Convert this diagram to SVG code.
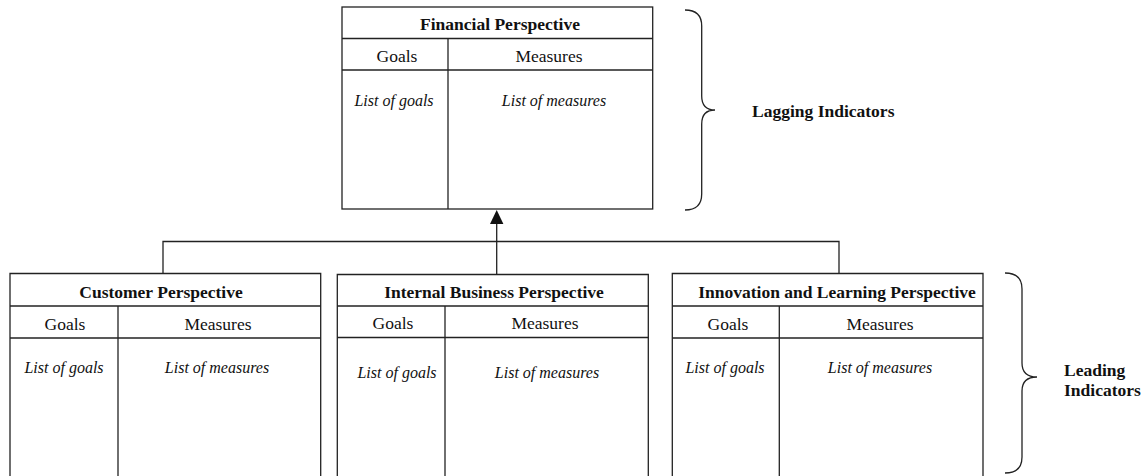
<svg xmlns="http://www.w3.org/2000/svg" width="1146" height="476" viewBox="0 0 1146 476">
<defs>
<style>
.box{fill:#fff;stroke:#222;stroke-width:1.3}
.ln{stroke:#222;stroke-width:1.3;fill:none}
.h{font-family:"Liberation Serif","Times New Roman",serif;font-weight:bold;font-size:17.5px;fill:#111;text-anchor:middle}
.c{font-family:"Liberation Serif","Times New Roman",serif;font-size:17.5px;fill:#111;text-anchor:middle}
.i{font-family:"Liberation Serif","Times New Roman",serif;font-style:italic;font-size:16px;fill:#111;text-anchor:middle}
.lab{font-family:"Liberation Serif","Times New Roman",serif;font-weight:bold;font-size:17.5px;fill:#111}
</style>
</defs>
<g id="connectors">
<polyline class="ln" points="163,273 163,241.5 839,241.5 839,273"/>
<line class="ln" x1="496.7" y1="274" x2="496.7" y2="224"/>
<path d="M490,224 L496.7,210 L503.4,224 Z" fill="#111"/>
</g>
<g id="financial">
<rect class="box" x="342" y="7" width="310.7" height="202"/>
<line class="ln" x1="342" y1="38.5" x2="652.7" y2="38.5"/>
<line class="ln" x1="342" y1="70" x2="652.7" y2="70"/>
<line class="ln" x1="448" y1="38.5" x2="448" y2="209"/>
<text class="h" x="500" y="30">Financial Perspective</text>
<text class="c" x="397" y="62">Goals</text>
<text class="c" x="549" y="62">Measures</text>
<text class="i" x="394" y="106">List of goals</text>
<text class="i" x="554" y="106">List of measures</text>
</g>
<g id="customer">
<path class="ln" d="M10,480 L10,273.5 L320.7,273.5 L320.7,480"/>
<line class="ln" x1="10" y1="306" x2="320.7" y2="306"/>
<line class="ln" x1="10" y1="338" x2="320.7" y2="338"/>
<line class="ln" x1="118" y1="306" x2="118" y2="480"/>
<text class="h" x="161" y="298">Customer Perspective</text>
<text class="c" x="65" y="330">Goals</text>
<text class="c" x="218" y="330">Measures</text>
<text class="i" x="64" y="373">List of goals</text>
<text class="i" x="217" y="373">List of measures</text>
</g>
<g id="internal">
<path class="ln" d="M337.3,480 L337.3,274.5 L648.3,274.5 L648.3,480"/>
<line class="ln" x1="337.3" y1="306" x2="648.3" y2="306"/>
<line class="ln" x1="337.3" y1="337.5" x2="648.3" y2="337.5"/>
<line class="ln" x1="445" y1="306" x2="445" y2="480"/>
<text class="h" x="494" y="298">Internal Business Perspective</text>
<text class="c" x="393" y="329">Goals</text>
<text class="c" x="545" y="329">Measures</text>
<text class="i" x="397" y="378">List of goals</text>
<text class="i" x="547" y="378">List of measures</text>
</g>
<g id="innovation">
<path class="ln" d="M672.3,480 L672.3,273.5 L983,273.5 L983,480"/>
<line class="ln" x1="672.3" y1="306" x2="983" y2="306"/>
<line class="ln" x1="672.3" y1="338" x2="983" y2="338"/>
<line class="ln" x1="779.3" y1="306" x2="779.3" y2="480"/>
<text class="h" x="837" y="298">Innovation and Learning Perspective</text>
<text class="c" x="728" y="330">Goals</text>
<text class="c" x="880" y="330">Measures</text>
<text class="i" x="725" y="373">List of goals</text>
<text class="i" x="880" y="373">List of measures</text>
</g>
<g id="lagging">
<path class="ln" d="M685,10 Q701.7,10 701.7,26 L701.7,96 Q701.7,110 715,110 Q701.7,110 701.7,124 L701.7,194 Q701.7,210 685,210"/>
<text class="lab" x="752" y="117">Lagging Indicators</text>
</g>
<g id="leading">
<path class="ln" d="M1005,273 Q1022,273 1022,289 L1022,363 Q1022,377 1037,377 Q1022,377 1022,391 L1022,457 Q1022,473 1005,473"/>
<text class="lab" x="1064" y="376">Leading</text>
<text class="lab" x="1064" y="396">Indicators</text>
</g>
</svg>
